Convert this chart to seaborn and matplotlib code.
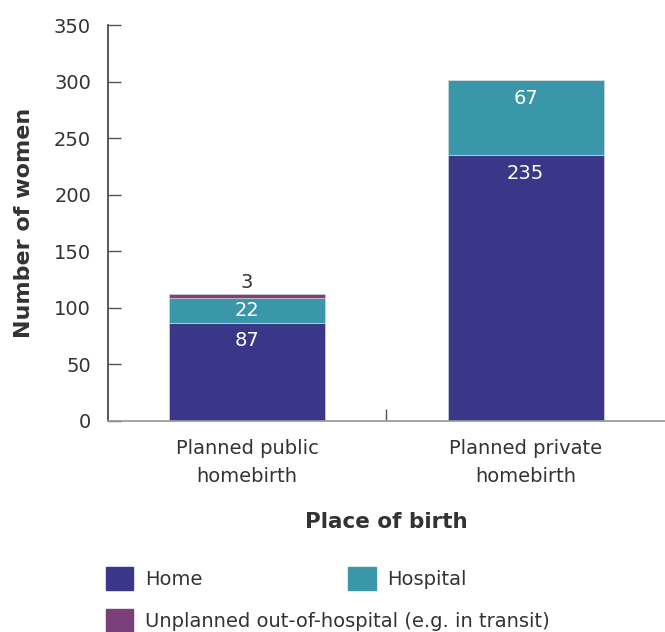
import pandas as pd
import seaborn as sns
import matplotlib.pyplot as plt
from matplotlib.patches import Patch

# data
categories = ["Planned public\nhomebirth", "Planned private\nhomebirth"]
home = [87, 235]
hospital = [22, 67]
unplanned = [3, 0]

c_home = "#3a3789"
c_hosp = "#3a97a9"
c_unpl = "#7b3f7b"
txt = "#333333"

sns.set_theme(style="white")
plt.rcParams["font.family"] = ["DejaVu Sans"]

df = pd.DataFrame({"cat": categories, "home": home, "hospital": hospital, "unplanned": unplanned})
df["b2"] = df["home"] + df["hospital"]

fig = plt.figure(figsize=(6.65, 6.32), dpi=100)
ax = fig.add_axes([0.162, 0.334, 0.838, 0.626])

w = 0.56
bar_kw = dict(width=w, ax=ax, saturation=1, linewidth=0.4, edgecolor="#dddddd")
sns.barplot(data=df, x="cat", y="home", color=c_home, **bar_kw)
sns.barplot(data=df, x="cat", y="hospital", bottom=df["home"], color=c_hosp, **bar_kw)
sns.barplot(data=df, x="cat", y="unplanned", bottom=df["b2"], color=c_unpl, **bar_kw)

fs = 14
# value labels
for i in range(len(categories)):
    ax.annotate(str(home[i]), (i, home[i]), xytext=(0, -6), textcoords="offset points",
                ha="center", va="top", color="white", fontsize=fs)
    top2 = home[i] + hospital[i]
    if hospital[i] < 40:
        ax.text(i, home[i] + hospital[i] / 2, str(hospital[i]), ha="center", va="center",
                color="white", fontsize=fs)
    else:
        ax.annotate(str(hospital[i]), (i, top2), xytext=(0, -7), textcoords="offset points",
                    ha="center", va="top", color="white", fontsize=fs)
    if unplanned[i] > 0:
        ax.annotate(str(unplanned[i]), (i, top2 + unplanned[i]), xytext=(0, 2),
                    textcoords="offset points", ha="center", va="bottom", color=txt, fontsize=fs)

ax.set_xlim(-0.5, 1.5)
ax.set_ylim(0, 350)
ax.set_yticks(range(0, 351, 50))
ax.tick_params(axis="y", direction="in", length=9, width=1, color="#555555",
               labelsize=fs, labelcolor=txt, pad=12, left=True)
ax.tick_params(axis="x", length=0, labelsize=fs, labelcolor=txt, pad=13)
for t in ax.get_xticklabels():
    t.set_linespacing(1.6)
ax.set_xticks([0.5], minor=True)
ax.tick_params(axis="x", which="minor", direction="in", length=9, color="#555555", bottom=True)

for s in ["top", "right"]:
    ax.spines[s].set_visible(False)
ax.spines["left"].set_color("#444444")
ax.spines["bottom"].set_color("#999999")

ax.set_ylabel("Number of women", fontsize=16, fontweight="bold", color=txt, labelpad=14)
ax.set_xlabel("Place of birth", fontsize=15.5, fontweight="bold", color=txt, labelpad=19)

# legend
h1 = [Patch(color=c_home, label="Home"), Patch(color=c_hosp, label="Hospital")]
h2 = [Patch(color=c_unpl, label="Unplanned out-of-hospital (e.g. in transit)")]
leg_kw = dict(frameon=False, fontsize=fs, handlelength=1.4, handleheight=1.4,
              handletextpad=0.6, borderaxespad=0, labelcolor=txt)
fig.legend(handles=h1, loc="center left", bbox_to_anchor=(0.148, 0.085), ncol=2,
           columnspacing=7.5, **leg_kw)
fig.legend(handles=h2, loc="center left", bbox_to_anchor=(0.148, 0.018), **leg_kw)

fig.savefig("out.png", dpi=100)
